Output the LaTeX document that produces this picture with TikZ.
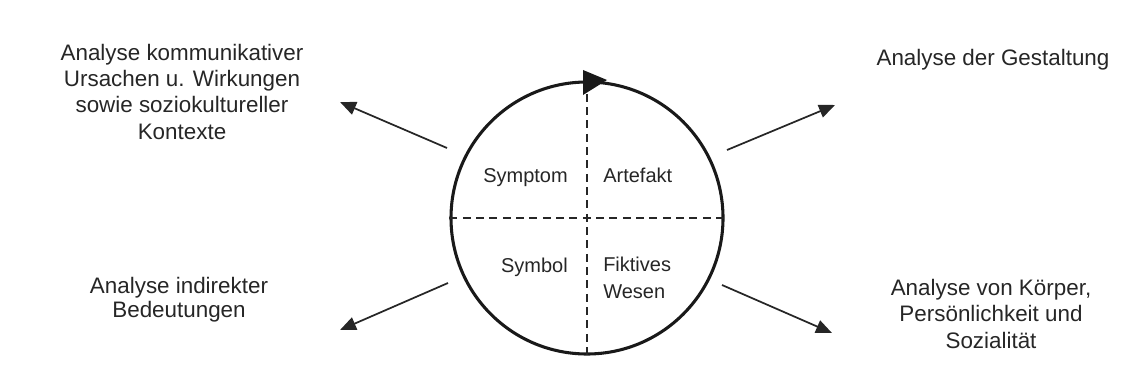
\documentclass[tikz,border=0pt]{standalone}
\usepackage{fontspec}
\setmainfont{Liberation Sans}
\usetikzlibrary{arrows.meta}
\begin{document}
\begin{tikzpicture}[x=0.75pt,y=-0.75pt,
  outer/.style={font=\fontsize{16.8}{19.7}\selectfont, align=center, inner sep=0pt, text=black!85},
  innerlbl/.style={font=\fontsize{15}{20}\selectfont, inner sep=0pt, text=black!85},
  conn/.style={line width=1.3pt, draw=black!85, -{Triangle[length=12pt,width=10pt]}},
  ring/.style={circle, draw=black!90, line width=2.3pt, minimum size=204pt, inner sep=0pt},
  divider/.style={line width=1.1pt, draw=black!85, dash pattern=on 6pt off 4pt},
  headtip/.style={fill=black!90}]
\useasboundingbox (0,0) rectangle (1130,385);
% main circle
\node[ring] (circ) at (587,218) {};
\draw[divider] (circ.west) -- (circ.east);
\draw[divider] (circ.north) -- (circ.south);
\fill[headtip] (583,70) -- (607,80) -- (583,95) -- cycle;
% inner labels
\node[innerlbl, anchor=base east] (sym) at (568,182) {Symptom};
\node[innerlbl, anchor=base west] (art) at (603,182) {Artefakt};
\node[innerlbl, anchor=base east] (sbl) at (568,272) {Symbol};
\node[innerlbl, anchor=base west, align=left] (fik) at (603,298) {Fiktives\\Wesen};
% outer labels (base anchor = last line baseline)
\node[outer, anchor=base] (tl) at (182,139) {Analyse kommunikativer\\Ursachen u. Wirkungen\\sowie soziokultureller\\Kontexte};
\node[outer, anchor=base] (tr) at (993,65) {Analyse der Gestaltung};
\node[outer, anchor=base, font=\fontsize{16.8}{18}\selectfont] (bl) at (179,317) {Analyse indirekter\\Bedeutungen};
\node[outer, anchor=base] (br) at (991,348) {Analyse von Körper,\\Persönlichkeit und\\Sozialität};
% connector ends
\coordinate (tlFrom) at (447,148);
\coordinate (tlTo) at (340,102);
\coordinate (trFrom) at (727,150);
\coordinate (trTo) at (835,105);
\coordinate (brFrom) at (722,285);
\coordinate (brTo) at (832,333);
\coordinate (blFrom) at (448,283);
\coordinate (blTo) at (340,330);
\draw[conn] (tlFrom) -- (tlTo);
\draw[conn] (trFrom) -- (trTo);
\draw[conn] (brFrom) -- (brTo);
\draw[conn] (blFrom) -- (blTo);
\end{tikzpicture}
\end{document}
